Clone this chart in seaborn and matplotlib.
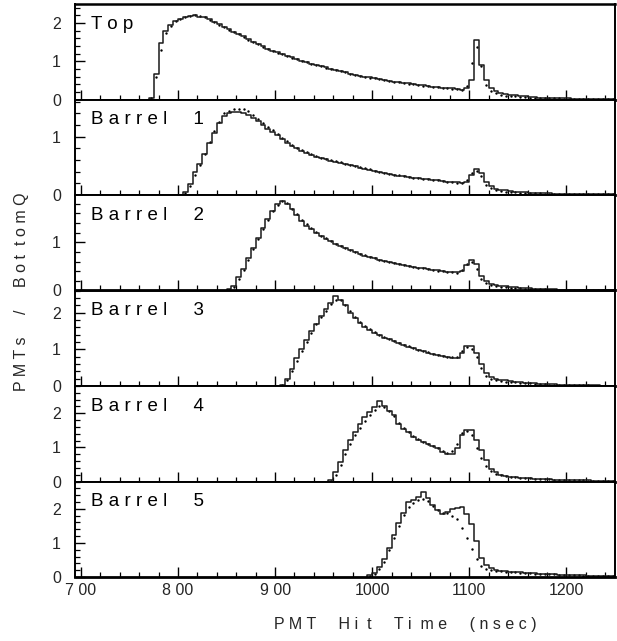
import numpy as np
import pandas as pd
import seaborn as sns
import matplotlib
matplotlib.use("Agg")
import matplotlib.pyplot as plt
from matplotlib.ticker import MultipleLocator, FixedLocator

# ---------------- data (5 ns bins, value per bin starting at *_start) -------------
bin_width = 5

top_start = 770
top_solid = [0.05, 0.66, 1.47, 1.80, 1.95, 2.05,
             2.10, 2.15, 2.18, 2.20, 2.17, 2.15, 2.10, 2.02, 1.97, 1.90,
             1.84, 1.78, 1.72, 1.65, 1.58, 1.50, 1.45, 1.39, 1.33, 1.28,
             1.24, 1.19, 1.14, 1.10, 1.06, 1.02, 0.98, 0.94, 0.91, 0.87,
             0.84, 0.80, 0.77, 0.74, 0.71, 0.68, 0.65, 0.62, 0.60, 0.58,
             0.55, 0.53, 0.51, 0.49, 0.47, 0.45, 0.43, 0.42, 0.40, 0.38,
             0.37, 0.35, 0.34, 0.32, 0.31, 0.30, 0.29, 0.27, 0.26, 0.30,
             0.50, 1.55, 0.90, 0.50, 0.30, 0.22, 0.18, 0.15, 0.13, 0.11,
             0.09, 0.08, 0.07, 0.06, 0.05, 0.05, 0.04, 0.04, 0.03, 0.03,
             0.03, 0.02, 0.02, 0.02, 0.02, 0.01, 0.01, 0.01, 0.01, 0.01]
top_dotted = [0.05, 0.60, 1.30, 1.73, 1.93, 2.05,
              2.12, 2.16, 2.19, 2.21, 2.19, 2.15, 2.09, 2.03, 1.96, 1.90,
              1.83, 1.78, 1.71, 1.64, 1.57, 1.51, 1.45, 1.38, 1.33, 1.28,
              1.23, 1.18, 1.14, 1.09, 1.05, 1.01, 0.98, 0.94, 0.90, 0.87,
              0.83, 0.80, 0.77, 0.74, 0.71, 0.68, 0.65, 0.62, 0.60, 0.57,
              0.55, 0.53, 0.51, 0.49, 0.47, 0.45, 0.43, 0.41, 0.40, 0.38,
              0.36, 0.35, 0.33, 0.32, 0.31, 0.29, 0.28, 0.27, 0.26, 0.35,
              0.95, 1.37, 0.87, 0.38, 0.22, 0.16, 0.12, 0.10, 0.09, 0.08,
              0.07, 0.06, 0.05, 0.05, 0.04, 0.04, 0.03, 0.03, 0.03, 0.02,
              0.02, 0.02, 0.02, 0.01, 0.01, 0.01, 0.01, 0.01, 0.01, 0.01]

b1_start = 805
b1_solid = [0.05, 0.19, 0.39, 0.53, 0.71, 0.90, 1.07, 1.24, 1.36,
            1.40, 1.42, 1.43, 1.40, 1.37, 1.33, 1.27, 1.20, 1.14, 1.08,
            1.03, 0.96, 0.90, 0.84, 0.80, 0.76, 0.72, 0.69, 0.66, 0.63,
            0.61, 0.59, 0.57, 0.55, 0.53, 0.51, 0.49, 0.47, 0.45, 0.43,
            0.41, 0.39, 0.37, 0.36, 0.34, 0.33, 0.32, 0.31, 0.30, 0.29,
            0.28, 0.27, 0.26, 0.25, 0.24, 0.23, 0.22, 0.22, 0.21, 0.22,
            0.35, 0.44, 0.38, 0.22, 0.15, 0.11, 0.09, 0.08, 0.07, 0.06,
            0.05, 0.05, 0.04, 0.04, 0.03, 0.03, 0.03, 0.02, 0.02, 0.02,
            0.02, 0.02, 0.01, 0.01, 0.01, 0.01, 0.01, 0.01, 0.01, 0.01]
b1_dotted = [0.03, 0.15, 0.35, 0.52, 0.70, 0.91, 1.10, 1.26, 1.40,
             1.45, 1.47, 1.48, 1.47, 1.44, 1.38, 1.31, 1.24, 1.17, 1.11,
             1.05, 0.98, 0.92, 0.86, 0.81, 0.77, 0.73, 0.70, 0.67, 0.64,
             0.62, 0.60, 0.58, 0.56, 0.54, 0.52, 0.50, 0.48, 0.46, 0.44,
             0.42, 0.40, 0.38, 0.36, 0.35, 0.34, 0.32, 0.31, 0.30, 0.29,
             0.28, 0.27, 0.26, 0.25, 0.24, 0.23, 0.22, 0.21, 0.21, 0.25,
             0.38, 0.42, 0.32, 0.18, 0.12, 0.09, 0.07, 0.06, 0.05, 0.05,
             0.04, 0.04, 0.03, 0.03, 0.03, 0.02, 0.02, 0.02, 0.02, 0.01,
             0.01, 0.01, 0.01, 0.01, 0.01, 0.01, 0.01, 0.01, 0.01, 0.01]

b2_start = 850
b2_solid = [0.03, 0.10, 0.27, 0.45, 0.67, 0.89, 1.09, 1.30, 1.48, 1.65,
            1.79, 1.85, 1.79, 1.68, 1.56, 1.45, 1.34, 1.27, 1.20, 1.13,
            1.07, 1.02, 0.97, 0.92, 0.88, 0.83, 0.80, 0.76, 0.72, 0.70,
            0.67, 0.64, 0.62, 0.59, 0.56, 0.55, 0.53, 0.51, 0.49, 0.47,
            0.46, 0.45, 0.43, 0.42, 0.40, 0.39, 0.38, 0.38, 0.40, 0.52,
            0.63, 0.55, 0.31, 0.20, 0.14, 0.12, 0.10, 0.09, 0.08, 0.07,
            0.06, 0.05, 0.05, 0.04, 0.04, 0.03, 0.03, 0.03, 0.02, 0.02,
            0.02, 0.02, 0.02, 0.01, 0.01, 0.01, 0.01, 0.01, 0.01, 0.01]
b2_dotted = [0.02, 0.08, 0.24, 0.42, 0.64, 0.86, 1.07, 1.28, 1.47, 1.64,
             1.78, 1.86, 1.81, 1.70, 1.58, 1.47, 1.37, 1.29, 1.21, 1.14,
             1.08, 1.02, 0.97, 0.93, 0.88, 0.84, 0.80, 0.76, 0.73, 0.70,
             0.67, 0.64, 0.61, 0.59, 0.57, 0.55, 0.53, 0.51, 0.49, 0.47,
             0.46, 0.44, 0.43, 0.41, 0.40, 0.39, 0.38, 0.37, 0.42, 0.55,
             0.60, 0.45, 0.24, 0.15, 0.11, 0.09, 0.08, 0.07, 0.06, 0.05,
             0.05, 0.04, 0.04, 0.03, 0.03, 0.03, 0.02, 0.02, 0.02, 0.02,
             0.02, 0.01, 0.01, 0.01, 0.01, 0.01, 0.01, 0.01, 0.01, 0.01]

b3_start = 905
b3_solid = [0.03, 0.20, 0.45, 0.75, 1.00, 1.25, 1.50, 1.70, 1.90,
            2.10, 2.25, 2.45, 2.35, 2.20, 2.00, 1.85, 1.72, 1.60, 1.52,
            1.45, 1.38, 1.32, 1.27, 1.22, 1.17, 1.12, 1.07, 1.03, 0.98,
            0.95, 0.91, 0.88, 0.85, 0.82, 0.79, 0.77, 0.76, 0.90, 1.08,
            1.08, 0.90, 0.60, 0.35, 0.25, 0.20, 0.17, 0.15, 0.13, 0.12,
            0.10, 0.09, 0.08, 0.07, 0.06, 0.06, 0.05, 0.05, 0.04, 0.04,
            0.03, 0.03, 0.03, 0.02, 0.02, 0.02, 0.02, 0.01, 0.01, 0.01]
b3_dotted = [0.02, 0.15, 0.40, 0.68, 0.95, 1.20, 1.45, 1.68, 1.88,
             2.05, 2.22, 2.35, 2.33, 2.20, 2.03, 1.88, 1.74, 1.63, 1.54,
             1.46, 1.39, 1.33, 1.27, 1.22, 1.17, 1.12, 1.08, 1.03, 0.99,
             0.95, 0.92, 0.88, 0.85, 0.82, 0.80, 0.78, 0.80, 0.95, 1.05,
             1.00, 0.78, 0.48, 0.28, 0.20, 0.16, 0.14, 0.12, 0.11, 0.10,
             0.09, 0.08, 0.07, 0.06, 0.05, 0.05, 0.04, 0.04, 0.03, 0.03,
             0.03, 0.02, 0.02, 0.02, 0.02, 0.01, 0.01, 0.01, 0.01, 0.01]

b4_start = 955
b4_solid = [0.03, 0.29, 0.58, 0.93, 1.22, 1.45, 1.68, 1.88, 2.03,
            2.17, 2.37, 2.20, 2.08, 1.94, 1.68, 1.54, 1.45, 1.30, 1.22,
            1.16, 1.10, 1.05, 0.99, 0.87, 0.81, 0.81, 0.97, 1.35, 1.51,
            1.51, 1.22, 0.93, 0.64, 0.38, 0.27, 0.20, 0.16, 0.14, 0.12,
            0.11, 0.10, 0.09, 0.08, 0.07, 0.07, 0.06, 0.05, 0.05, 0.04,
            0.04, 0.04, 0.03, 0.03, 0.03, 0.02, 0.02, 0.02, 0.02, 0.02]
b4_dotted = [0.02, 0.20, 0.48, 0.80, 1.10, 1.35, 1.58, 1.78, 1.95,
             2.10, 2.20, 2.18, 2.08, 1.92, 1.72, 1.56, 1.44, 1.32, 1.24,
             1.17, 1.11, 1.05, 0.98, 0.90, 0.85, 0.88, 1.10, 1.42, 1.48,
             1.36, 0.97, 0.68, 0.44, 0.30, 0.22, 0.18, 0.15, 0.13, 0.12,
             0.11, 0.10, 0.09, 0.08, 0.07, 0.06, 0.06, 0.05, 0.05, 0.04,
             0.04, 0.03, 0.03, 0.03, 0.02, 0.02, 0.02, 0.02, 0.02, 0.01]

b5_start = 995
b5_solid = [0.05,
            0.13, 0.29, 0.52, 0.86, 1.24, 1.59, 1.88, 2.21, 2.26, 2.36,
            2.49, 2.31, 2.11, 1.97, 1.85, 1.90, 2.00, 2.03, 2.04, 1.85,
            1.54, 1.06, 0.56, 0.34, 0.25, 0.21, 0.19, 0.17, 0.16, 0.15,
            0.14, 0.13, 0.12, 0.11, 0.10, 0.09, 0.085, 0.08, 0.07, 0.065,
            0.06, 0.055, 0.05, 0.045, 0.04, 0.035, 0.03, 0.03, 0.025, 0.02]
b5_dotted = [0.03,
             0.08, 0.22, 0.45, 0.78, 1.15, 1.50, 1.82, 2.05, 2.18, 2.25,
             2.30, 2.22, 2.08, 1.95, 1.87, 1.88, 1.80, 1.70, 1.45, 1.15,
             0.82, 0.52, 0.32, 0.24, 0.21, 0.19, 0.17, 0.16, 0.15, 0.14,
             0.13, 0.12, 0.11, 0.10, 0.095, 0.09, 0.08, 0.075, 0.07, 0.06,
             0.055, 0.05, 0.045, 0.04, 0.035, 0.03, 0.03, 0.025, 0.02, 0.02]

panel_names = ["T o p", "B a r r e l     1", "B a r r e l     2",
               "B a r r e l     3", "B a r r e l     4", "B a r r e l     5"]
panel_starts = [top_start, b1_start, b2_start, b3_start, b4_start, b5_start]
panel_solid = [top_solid, b1_solid, b2_solid, b3_solid, b4_solid, b5_solid]
panel_dotted = [top_dotted, b1_dotted, b2_dotted, b3_dotted, b4_dotted, b5_dotted]
panel_ymax = [2.5, 1.64, 1.98, 2.6, 2.8, 2.8]

x_ticks = [700, 800, 900, 1000, 1100, 1200]
x_ticklabels = ["7 00", "8 00", "9 00", "1000", "1100", "1200"]
x_range = (694, 1250)

# ---------------- style ----------------
sns.set_style("white")
plt.rcParams["font.family"] = ["Liberation Sans", "DejaVu Sans"]

fig = plt.figure(figsize=(6.17, 6.41), dpi=100)
W, H = 617, 641
left, right = 75 / W, 615 / W
top, bottom = 1 - 4 / H, 1 - 577 / H
gs = fig.add_gridspec(6, 1, left=left, right=right, top=top, bottom=bottom, hspace=0)

for i in range(6):
    ax = fig.add_subplot(gs[i])
    start = panel_starts[i]
    solid = np.asarray(panel_solid[i], dtype=float)
    dotted = np.asarray(panel_dotted[i], dtype=float)
    n = len(solid)
    edges = start + bin_width * np.arange(n + 1)
    xs = np.r_[start, edges]
    ys = np.r_[0.0, solid, solid[-1]]
    df = pd.DataFrame({"t": xs, "v": ys})
    sns.lineplot(data=df, x="t", y="v", drawstyle="steps-post", estimator=None,
                 sort=False, color="#1a1a1a", linewidth=1.1, ax=ax)
    centers = start + bin_width * (np.arange(len(dotted)) + 0.5)
    dfd = pd.DataFrame({"t": centers, "v": dotted})
    sns.scatterplot(data=dfd, x="t", y="v", s=3, color="black", linewidth=0,
                    marker="o", ax=ax)

    ax.set_xlim(*x_range)
    ax.set_ylim(0, panel_ymax[i])
    ax.set_xlabel("")
    ax.set_ylabel("")
    ax.xaxis.set_major_locator(FixedLocator(x_ticks))
    ax.xaxis.set_minor_locator(MultipleLocator(20))
    ax.yaxis.set_major_locator(MultipleLocator(1))
    ax.yaxis.set_minor_locator(MultipleLocator(0.2))
    ax.tick_params(axis="both", which="major", direction="in", length=7,
                   width=1.0, color="black", labelsize=11.5, top=False, right=False,
                   bottom=True, left=True)
    ax.tick_params(axis="y", which="major", pad=10)
    ax.tick_params(axis="x", which="major", pad=4)
    ax.tick_params(axis="both", which="minor", direction="in", length=3.5,
                   width=0.9, color="black", top=False, right=False,
                   bottom=True, left=True)
    ax.yaxis.set_major_formatter(matplotlib.ticker.FuncFormatter(lambda v, p: f"{int(round(v))}"))
    if i < 5:
        ax.set_xticklabels([])
    else:
        ax.set_xticklabels(x_ticklabels)
    for side in ["left", "right", "top", "bottom"]:
        ax.spines[side].set_visible(True)
        ax.spines[side].set_color("black")
        ax.spines[side].set_linewidth(1.4)
    ax.spines["bottom"].set_linewidth(2.0)
    if i == 0:
        ax.spines["top"].set_linewidth(1.8)
    ax.text(0.03, 0.79, panel_names[i], transform=ax.transAxes, fontsize=13.5,
            ha="left", va="center", color="black")

fig.text(22 / W, 1 - 292 / H, "P M T s     /     B o t  t o m Q", rotation=90,
         ha="center", va="center", fontsize=11.5)
fig.text(405 / W, 1 - 625 / H, "P M T     H i  t     T i  m e     ( n s e c )",
         ha="center", va="center", fontsize=11.5)

fig.savefig("out.png", dpi=100)
